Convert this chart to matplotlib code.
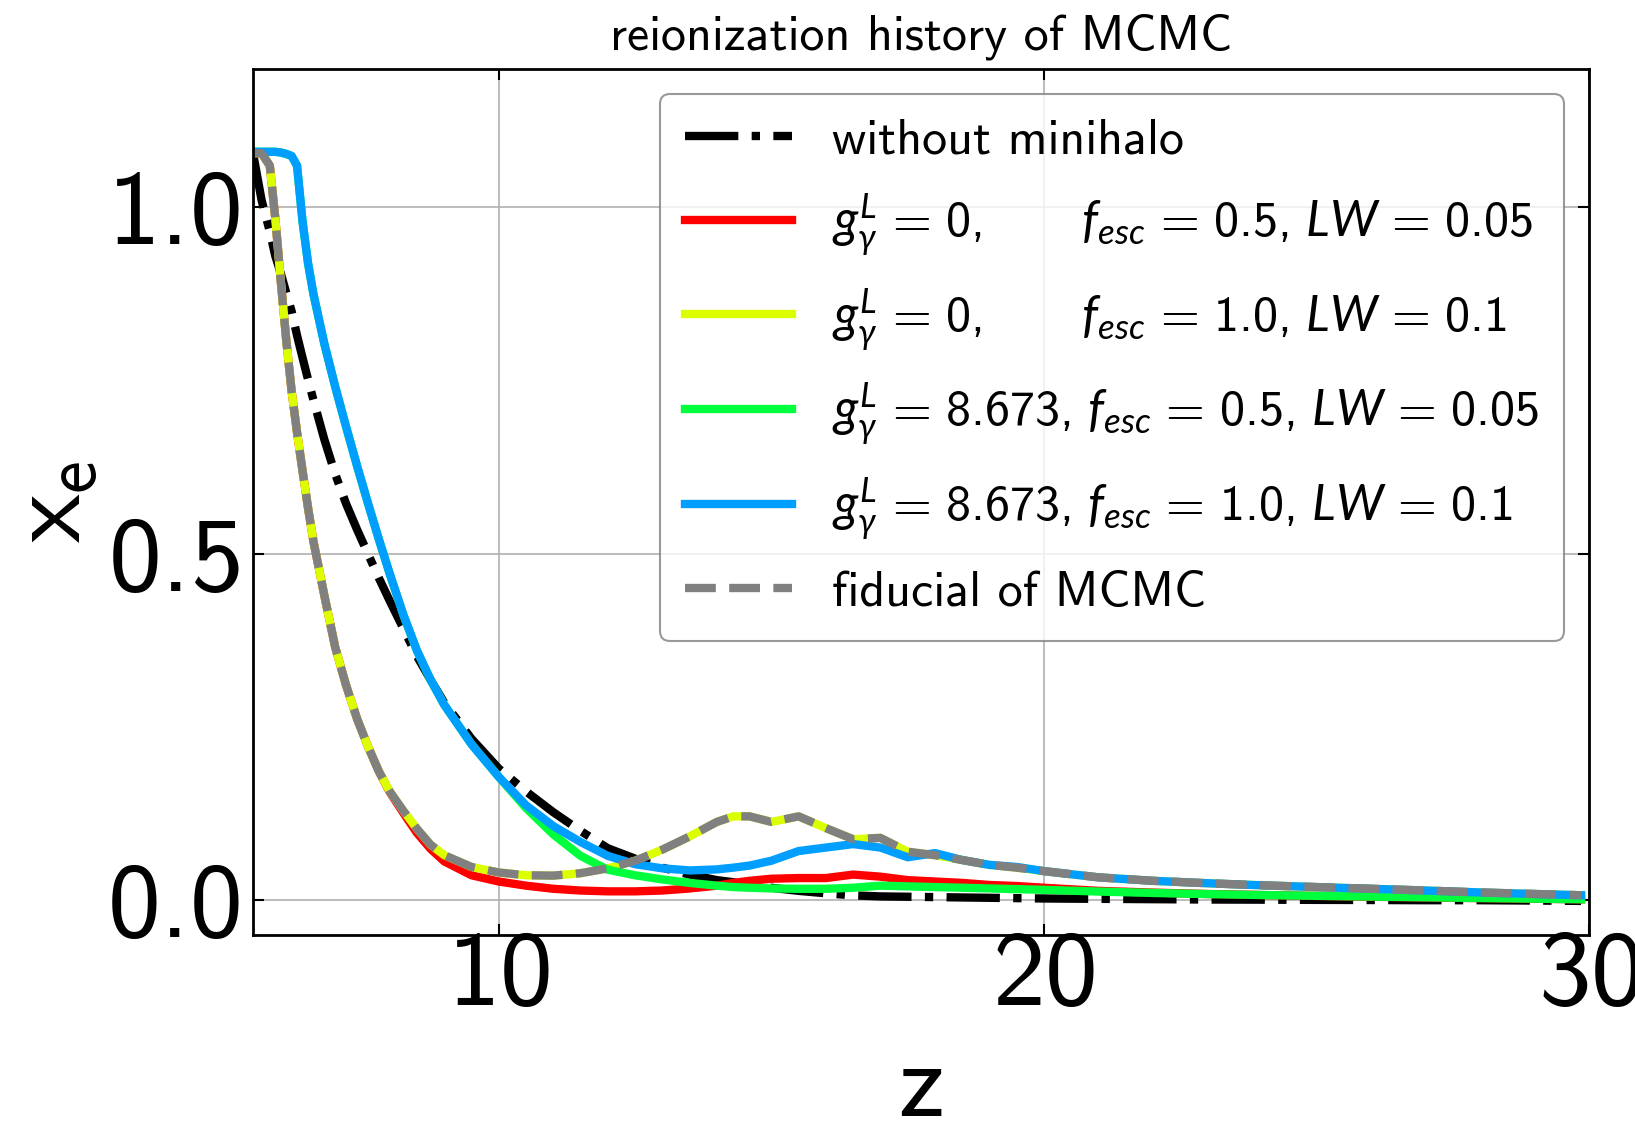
import matplotlib
matplotlib.use("Agg")
import matplotlib.pyplot as plt

plt.rcParams.update({
    "font.family": "cmss10",
    "mathtext.fontset": "custom",
    "mathtext.rm": "cmss10",
    "mathtext.it": "Lato:italic",
    "axes.formatter.use_mathtext": True,
    "axes.unicode_minus": False,
})

# redshift grid
z = [5.5, 5.65, 5.8, 5.9, 6.0, 6.1, 6.2, 6.3, 6.4, 6.5, 6.6, 6.8, 7.0, 7.2, 7.4,
     7.6, 7.8, 8.0, 8.25, 8.5, 8.75, 9.0, 9.5, 10.0, 10.5, 11.0, 11.5, 12.0, 12.5,
     13.0, 13.5, 14.0, 14.3, 14.6, 15.0, 15.5, 16.0, 16.5, 17.0, 17.5, 18.0, 18.5,
     19.0, 19.5, 20.0, 21.0, 22.0, 23.0, 24.0, 25.0, 26.0, 27.0, 28.0, 29.0, 29.85]

# ionized fraction without minihalo contribution
xe_no_minihalo = [1.075, 1.01, 0.965, 0.93, 0.905, 0.877, 0.85, 0.815, 0.783, 0.752,
                  0.722, 0.665, 0.615, 0.572, 0.535, 0.50, 0.465, 0.432, 0.392, 0.352,
                  0.318, 0.285, 0.233, 0.19, 0.157, 0.127, 0.10, 0.075, 0.06, 0.047,
                  0.037, 0.029, 0.026, 0.022, 0.018, 0.0135, 0.010, 0.007, 0.0055,
                  0.005, 0.0045, 0.004, 0.0035, 0.003, 0.0025, 0.002, 0.0015, 0.001,
                  0.0008, 0.0005, 0.0003, 0.0, 0.0, -0.0005, -0.001]

# g = 0, f_esc = 0.5, LW = 0.05
xe_g0_f05 = [1.078, 1.078, 1.06, 0.985, 0.895, 0.81, 0.735, 0.675, 0.62, 0.567,
             0.518, 0.44, 0.365, 0.31, 0.262, 0.222, 0.186, 0.156, 0.126, 0.097,
             0.074, 0.056, 0.036, 0.027, 0.021, 0.0165, 0.014, 0.0128, 0.0128, 0.014,
             0.017, 0.021, 0.025, 0.028, 0.031, 0.032, 0.032, 0.037, 0.034, 0.029,
             0.027, 0.025, 0.022, 0.0205, 0.018, 0.0135, 0.011, 0.009, 0.0075,
             0.0062, 0.005, 0.004, 0.003, 0.0021, 0.0014]

# g = 0, f_esc = 1.0, LW = 0.1
xe_g0_f10 = [1.078, 1.078, 1.06, 0.985, 0.895, 0.81, 0.735, 0.675, 0.62, 0.567,
             0.518, 0.44, 0.365, 0.31, 0.262, 0.222, 0.186, 0.157, 0.129, 0.103,
             0.08, 0.065, 0.048, 0.040, 0.036, 0.0355, 0.039, 0.046, 0.057, 0.073,
             0.092, 0.113, 0.121, 0.121, 0.113, 0.121, 0.104, 0.088, 0.09, 0.07,
             0.065, 0.058, 0.051, 0.047, 0.042, 0.033, 0.028, 0.0245, 0.0215,
             0.019, 0.0165, 0.014, 0.0112, 0.009, 0.0072]

# g = 8.673, f_esc = 0.5, LW = 0.05
xe_g8_f05 = [1.08, 1.08, 1.08, 1.08, 1.079, 1.077, 1.074, 1.06, 0.98, 0.92,
             0.875, 0.803, 0.741, 0.683, 0.627, 0.573, 0.521, 0.471, 0.412, 0.36,
             0.318, 0.282, 0.225, 0.178, 0.133, 0.095, 0.064, 0.044, 0.036, 0.03,
             0.025, 0.021, 0.019, 0.018, 0.017, 0.0165, 0.0165, 0.018, 0.021, 0.02,
             0.019, 0.018, 0.017, 0.016, 0.015, 0.0125, 0.0105, 0.0088, 0.0075,
             0.0063, 0.0052, 0.0042, 0.0032, 0.0022, 0.0014]

# g = 8.673, f_esc = 1.0, LW = 0.1
xe_g8_f10 = [1.08, 1.08, 1.08, 1.08, 1.079, 1.077, 1.074, 1.06, 0.98, 0.92,
             0.875, 0.803, 0.741, 0.683, 0.627, 0.573, 0.521, 0.471, 0.412, 0.36,
             0.318, 0.282, 0.225, 0.178, 0.137, 0.107, 0.084, 0.064, 0.052, 0.046,
             0.043, 0.0445, 0.047, 0.05, 0.057, 0.071, 0.076, 0.081, 0.076, 0.062,
             0.068, 0.058, 0.051, 0.048, 0.042, 0.033, 0.028, 0.0245, 0.0215,
             0.019, 0.0165, 0.014, 0.0112, 0.009, 0.0072]

# fiducial model of the MCMC run
xe_fiducial = list(xe_g0_f10)

labels = [
    "without minihalo",
    r"$g_{\gamma}^{L}\,=\,0,\qquad\; f_{esc}\,=\,0.5,\, LW\,=\,0.05$",
    r"$g_{\gamma}^{L}\,=\,0,\qquad\; f_{esc}\,=\,1.0,\, LW\,=\,0.1$",
    r"$g_{\gamma}^{L}\,=\,8.673,\, f_{esc}\,=\,0.5,\, LW\,=\,0.05$",
    r"$g_{\gamma}^{L}\,=\,8.673,\, f_{esc}\,=\,1.0,\, LW\,=\,0.1$",
    "fiducial of MCMC",
]

fig = plt.figure(figsize=(16.35, 11.25), dpi=100)
ax = fig.add_axes([0.155, 0.169, 0.817, 0.770])

lw = 6
ax.plot(z, xe_no_minihalo, color="black", ls="-.", lw=lw, label=labels[0])
ax.plot(z, xe_g0_f05, color="#ff0000", ls="-", lw=lw, label=labels[1])
ax.plot(z, xe_g0_f10, color="#dcff00", ls="-", lw=lw, label=labels[2])
ax.plot(z, xe_g8_f05, color="#00ff3c", ls="-", lw=lw, label=labels[3])
ax.plot(z, xe_g8_f10, color="#009eff", ls="-", lw=lw, label=labels[4])
ax.plot(z, xe_fiducial, color="gray", ls="--", lw=lw, label=labels[5])

ax.set_xlim(5.5, 30)
ax.set_ylim(-0.05, 1.2)
ax.set_xticks([10, 20, 30])
ax.set_yticks([0.0, 0.5, 1.0])
ax.grid(True, color="#b0b0b0", lw=1.2)
ax.set_axisbelow(True)
ax.tick_params(direction="in", top=True, right=True, length=8, width=1.5,
               labelsize=76)
ax.tick_params(axis="y", pad=10)
ax.tick_params(axis="x", pad=-3)
for sp in ax.spines.values():
    sp.set_linewidth(2)

ax.set_xlabel("z", fontsize=76, labelpad=12)
ax.set_ylabel(r"$\mathrm{x}_{\mathrm{e}}$", fontsize=76)
ax.set_title("reionization history of MCMC", fontsize=36, pad=14)

leg = ax.legend(loc="upper right", fontsize=36, handlelength=2.15,
                handletextpad=0.8, labelspacing=0.57, borderpad=0.5,
                framealpha=0.8, edgecolor="gray")
leg.get_frame().set_linewidth(1.5)

fig.savefig("out.png", dpi=100)
